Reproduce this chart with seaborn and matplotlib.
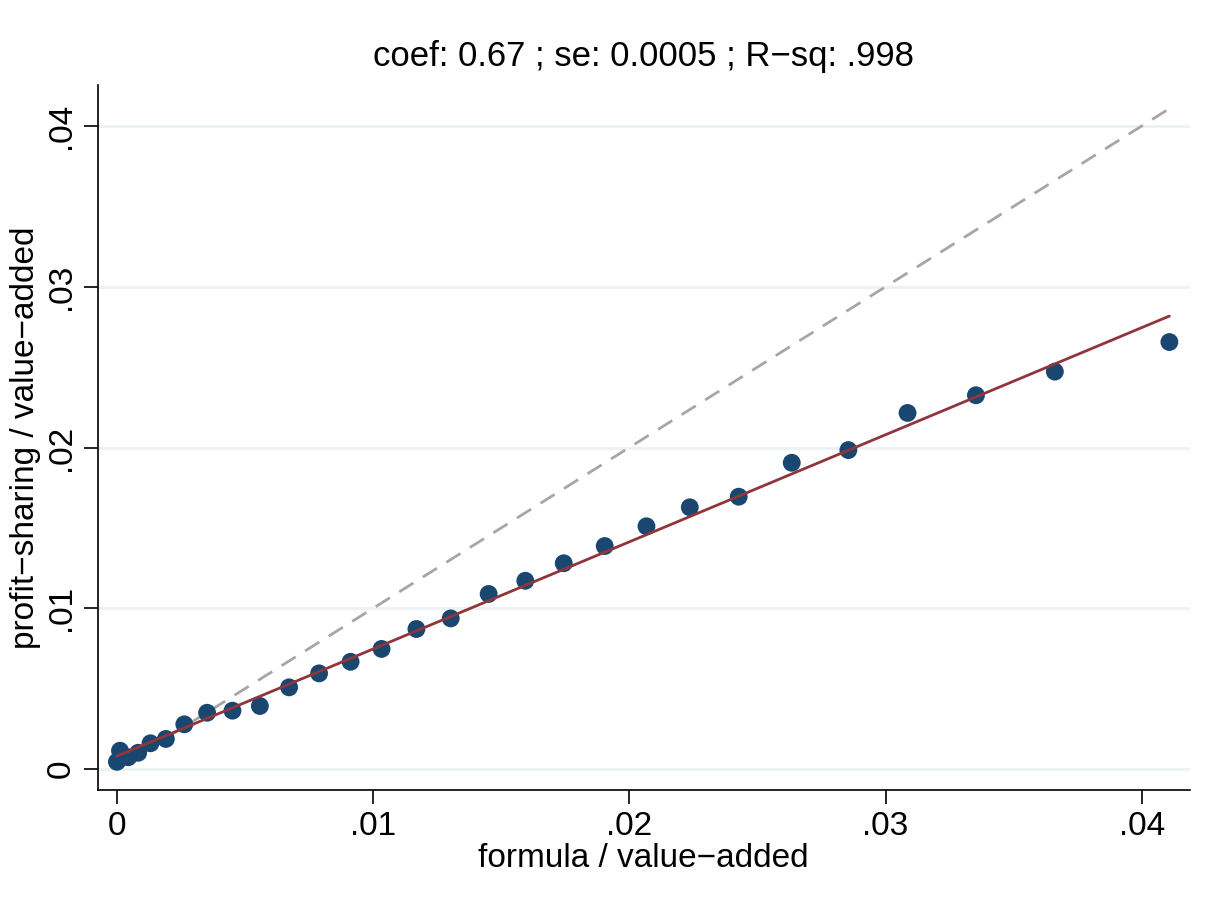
import numpy as np
import pandas as pd
import seaborn as sns
import matplotlib.pyplot as plt

# binned means
formula_va = [0.0000, 0.00012, 0.00044, 0.00083, 0.00131, 0.00191, 0.00263, 0.00352,
              0.00451, 0.00558, 0.00672, 0.00789, 0.00912, 0.01033, 0.01169, 0.01303,
              0.01451, 0.01594, 0.01744, 0.01904, 0.02067, 0.02236, 0.02427, 0.02634,
              0.02855, 0.03086, 0.03353, 0.03661, 0.04108]
profit_va = [0.00045, 0.00114, 0.00073, 0.00101, 0.00160, 0.00187, 0.00278, 0.00350,
             0.00363, 0.00392, 0.00508, 0.00595, 0.00667, 0.00747, 0.00871, 0.00937,
             0.01089, 0.01171, 0.01280, 0.01387, 0.01510, 0.01628, 0.01694, 0.01905,
             0.01984, 0.02215, 0.02325, 0.02472, 0.02656]

ticks = [0, 0.01, 0.02, 0.03, 0.04]
tick_labels = ["0", ".01", ".02", ".03", ".04"]
title = "coef: 0.67 ; se: 0.0005 ; R\u2212sq: .998"

df = pd.DataFrame({"x": formula_va, "y": profit_va})

sns.set_style("white")
plt.rcParams['font.family'] = ['Liberation Sans', 'DejaVu Sans']
plt.rcParams['text.color'] = 'black'
plt.rcParams['axes.labelcolor'] = 'black'
plt.rcParams['xtick.color'] = 'black'
plt.rcParams['ytick.color'] = 'black'

fig = plt.figure(figsize=(12.17, 9.09), dpi=100)
ax = fig.add_axes([0.0805, 0.131, 0.897, 0.7755])

for t in ticks:
    ax.axhline(t, color="#eaf2f3", lw=2, zorder=0)

# 45 degree line over the data range
lo, hi = df["x"].min(), df["x"].max()
ax.plot([lo, hi], [lo, hi], color="#a6a6a6", lw=2, ls=(0, (6, 4)), zorder=1)

sns.scatterplot(data=df, x="x", y="y", ax=ax, color="#1a476f", s=165,
                edgecolor="none", zorder=2)
sns.regplot(data=df, x="x", y="y", ax=ax, scatter=False, ci=None, truncate=True,
            line_kws={"color": "#90353b", "lw": 2, "zorder": 3})

ax.set_xlim(-0.00074, 0.04187)
ax.set_ylim(-0.0013, 0.04255)
ax.set_xticks(ticks)
ax.set_xticklabels(tick_labels)
ax.set_yticks(ticks)
ax.set_yticklabels(tick_labels, rotation=90, va="center")
ax.tick_params(axis="both", which="major", labelsize=24, length=10, width=1.2,
               direction="out", color="black", pad=5)
ax.tick_params(left=True, bottom=True)

for s in ["top", "right"]:
    ax.spines[s].set_visible(False)
for s in ["left", "bottom"]:
    ax.spines[s].set_color("black")
    ax.spines[s].set_linewidth(1.2)

ax.set_xlabel("formula / value\u2212added", fontsize=24, labelpad=1)
ax.set_ylabel("profit\u2212sharing / value\u2212added", fontsize=24, labelpad=4)
ax.set_title(title, fontsize=25, pad=14)

plt.savefig("out.png", dpi=100)
